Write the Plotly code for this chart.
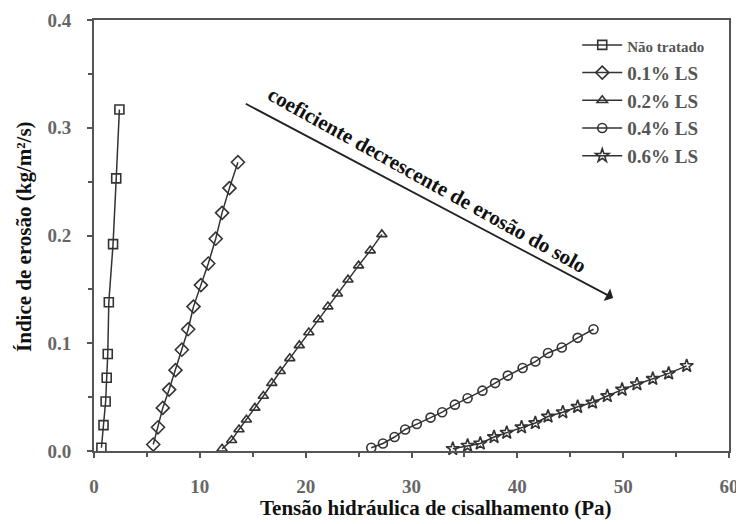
import plotly.graph_objects as go

# ---- data ----
nt_x = [0.7, 0.9, 1.1, 1.2, 1.3, 1.4, 1.8, 2.1, 2.4]
nt_y = [0.003, 0.024, 0.046, 0.068, 0.090, 0.138, 0.192, 0.253, 0.317]

ls01_x = [5.6, 6.05, 6.5, 7.1, 7.7, 8.3, 8.9, 9.4, 10.1, 10.8, 11.5, 12.1, 12.8, 13.6]
ls01_y = [0.006, 0.022, 0.040, 0.057, 0.075, 0.094, 0.113, 0.134, 0.154, 0.174, 0.197, 0.221, 0.244, 0.268]

ls02_x = [12.1, 13.0, 13.7, 14.4, 15.2, 16.0, 16.8, 17.6, 18.5, 19.4, 20.3, 21.2,
          22.1, 23.0, 24.0, 25.0, 26.1, 27.2]
ls02_y = [0.002, 0.010, 0.020, 0.029, 0.040, 0.051, 0.063, 0.074, 0.086, 0.098, 0.110, 0.122,
          0.134, 0.146, 0.159, 0.172, 0.186, 0.201]

ls04_x = [26.2, 27.3, 28.4, 29.4, 30.5, 31.8, 32.9, 34.1, 35.3, 36.7, 37.9, 39.1,
          40.5, 41.7, 42.9, 44.2, 45.7, 47.2]
ls04_y = [0.003, 0.007, 0.013, 0.020, 0.025, 0.031, 0.036, 0.043, 0.049, 0.056, 0.063, 0.070,
          0.077, 0.083, 0.091, 0.096, 0.105, 0.113]

ls06_x = [33.9, 35.3, 36.5, 37.8, 39.0, 40.4, 41.7, 42.9, 44.3, 45.7, 47.1, 48.5,
          49.9, 51.3, 52.8, 54.3, 56.0]
ls06_y = [0.002, 0.005, 0.007, 0.013, 0.017, 0.022, 0.026, 0.032, 0.036, 0.041, 0.045, 0.051,
          0.057, 0.062, 0.067, 0.072, 0.079]

names = ["<span style='font-size:15px'>Não tratado</span>", "0.1% LS", "0.2% LS", "0.4% LS", "0.6% LS"]
symbols = ["square-open", "diamond-open", "triangle-up-open", "circle-open", "star-open"]
msizes = [9, 10, 9, 9, 10]
xs = [nt_x, ls01_x, ls02_x, ls04_x, ls06_x]
ys = [nt_y, ls01_y, ls02_y, ls04_y, ls06_y]

x_ticks = [0, 10, 20, 30, 40, 50, 60]
y_ticks = [0.0, 0.1, 0.2, 0.3, 0.4]

FONT = "Liberation Serif"
LC = "#333333"
AX = "#555555"

fig = go.Figure()
for n, s, ms, x, y in zip(names, symbols, msizes, xs, ys):
    fig.add_trace(go.Scatter(
        x=x, y=y, name=n, mode="lines+markers", cliponaxis=False,
        line=dict(color=LC, width=1.5),
        marker=dict(symbol=s, size=ms, color=LC, line=dict(color=LC, width=1.6)),
    ))

axis_common = dict(
    showline=True, linecolor=AX, linewidth=2, mirror=True,
    ticks="outside", ticklen=5, tickcolor=AX, tickwidth=1.5,
    showgrid=False, zeroline=False, automargin=False,
    ticklabelstandoff=12,
    tickfont=dict(family=FONT, size=19, color="#666666", weight="bold"),
)

fig.update_xaxes(range=[0, 60], tickvals=x_ticks,
                 minor=dict(dtick=5, ticks="outside", ticklen=4, tickcolor=AX),
                 **axis_common)
fig.update_yaxes(range=[0, 0.4], tickvals=y_ticks, tickformat=".1f",
                 minor=dict(dtick=0.05, ticks="outside", ticklen=4, tickcolor=AX),
                 **axis_common)

# axis titles (placed as in the original figure)
fig.add_annotation(x=0.539, y=-0.132, xref="paper", yref="paper",
                   text="<b>Tensão hidráulica de cisalhamento (Pa)</b>", showarrow=False,
                   xanchor="center", yanchor="middle",
                   font=dict(family=FONT, size=21, color="#111111"))
fig.add_annotation(x=-0.11, y=0.497, xref="paper", yref="paper",
                   text="<b>Índice de erosão (kg/m²/s)</b>", showarrow=False, textangle=-90,
                   xanchor="center", yanchor="middle",
                   font=dict(family=FONT, size=21, color="#111111"))

# trend arrow and its label
fig.add_annotation(x=49.05, y=0.142, ax=14.2, ay=0.323, axref="x", ayref="y",
                   xref="x", yref="y", text="", showarrow=True,
                   arrowhead=1, arrowsize=1.3, arrowwidth=1.8, arrowcolor="#222222")
fig.add_annotation(x=31.47, y=0.2514, xref="x", yref="y",
                   text="<b>coeficiente decrescente de erosão do solo</b>",
                   textangle=29, showarrow=False,
                   font=dict(family=FONT, size=21, color="#111111"))

fig.update_layout(
    width=736, height=516,
    margin=dict(l=86, r=15, t=12, b=73),
    paper_bgcolor="white", plot_bgcolor="white",
    showlegend=True,
    legend=dict(x=0.761, y=0.986, xanchor="left", yanchor="top",
                bgcolor="rgba(0,0,0,0)", borderwidth=0,
                font=dict(family=FONT, size=19, color="#555555", weight="bold"),
                itemwidth=40, tracegroupgap=0),
)

fig.write_html("out.html")
